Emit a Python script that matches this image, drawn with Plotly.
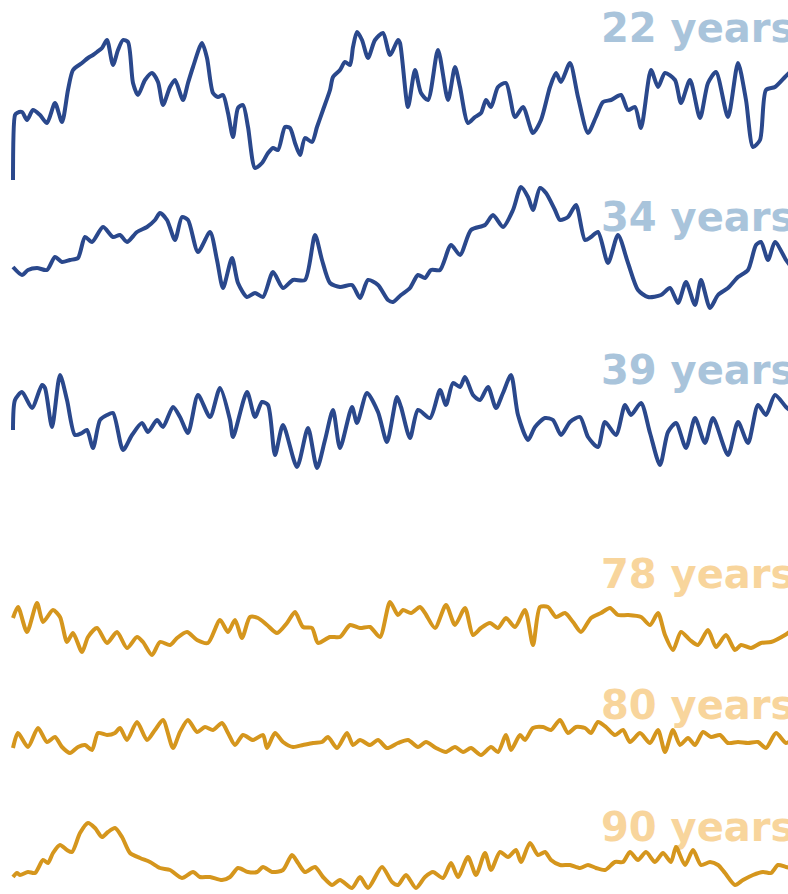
import plotly.graph_objects as go

# Heart-rate traces (beat index, relative heart rate) for six subjects.
t_22 = [0, 2, 4, 9, 14, 20, 27, 34, 42, 49, 55, 60, 69, 75, 80, 84, 89, 94, 100, 105, 110, 115, 120, 125, 132, 139, 145, 150, 157, 162, 170, 175, 180, 189, 194, 200, 205, 210, 215, 220, 225, 230, 235, 242, 249, 255, 260, 265, 272, 277, 282, 287, 292, 299, 304, 310, 317, 320, 327, 332, 337, 340, 344, 349, 355, 362, 370, 377, 385, 387, 395, 402, 408, 415, 425, 435, 442, 447, 455, 462, 468, 473, 478, 485, 493, 502, 510, 520, 528, 537, 543, 548, 557, 565, 575, 583, 590, 598, 608, 615, 622, 628, 638, 645, 652, 662, 668, 677, 687, 695, 703, 715, 725, 733, 740, 747, 753, 762, 772, 779]
hr_22 = [8, 75, 77, 78, 70, 80, 75, 67, 87, 68, 100, 120, 127, 132, 135, 138, 142, 150, 125, 140, 150, 148, 107, 95, 110, 117, 108, 85, 103, 110, 90, 107, 123, 147, 132, 97, 93, 95, 77, 53, 82, 85, 63, 22, 27, 37, 42, 40, 63, 62, 47, 35, 52, 48, 63, 80, 100, 113, 120, 128, 125, 143, 158, 150, 132, 150, 157, 135, 150, 147, 83, 120, 97, 90, 140, 90, 123, 103, 67, 73, 77, 90, 83, 103, 107, 73, 83, 57, 70, 103, 117, 108, 127, 93, 57, 73, 88, 90, 95, 80, 83, 62, 120, 103, 117, 110, 87, 110, 72, 107, 118, 73, 127, 90, 43, 50, 100, 103, 113, 120]

t_34 = [0, 9, 15, 24, 34, 42, 49, 57, 65, 72, 79, 90, 100, 107, 114, 124, 134, 142, 147, 154, 162, 169, 175, 185, 197, 204, 210, 219, 225, 234, 242, 250, 260, 270, 280, 292, 302, 309, 317, 327, 339, 347, 355, 365, 375, 380, 388, 397, 405, 412, 418, 427, 438, 447, 458, 472, 480, 490, 500, 508, 515, 520, 527, 533, 542, 547, 555, 563, 572, 578, 585, 595, 605, 615, 625, 635, 648, 657, 665, 673, 682, 688, 697, 705, 715, 725, 735, 743, 748, 755, 762, 773, 779]
hr_34 = [53, 45, 50, 52, 50, 63, 58, 60, 62, 83, 78, 93, 83, 85, 78, 88, 93, 100, 107, 100, 80, 103, 100, 68, 88, 60, 32, 62, 37, 23, 27, 23, 48, 32, 40, 40, 85, 60, 37, 33, 35, 22, 40, 35, 20, 18, 25, 32, 45, 42, 50, 50, 75, 65, 90, 95, 105, 93, 110, 133, 123, 110, 132, 127, 110, 100, 103, 115, 80, 83, 88, 57, 85, 57, 30, 23, 25, 32, 17, 38, 15, 40, 12, 25, 32, 43, 50, 75, 78, 60, 78, 60, 52]

t_39 = [0, 2, 9, 19, 29, 32, 39, 47, 54, 62, 69, 74, 80, 87, 94, 100, 110, 119, 129, 135, 144, 150, 160, 167, 175, 185, 197, 207, 217, 220, 234, 242, 249, 255, 262, 270, 284, 295, 304, 312, 320, 327, 339, 344, 354, 365, 374, 384, 388, 397, 405, 417, 427, 433, 440, 447, 452, 460, 467, 475, 483, 490, 498, 505, 515, 522, 532, 540, 548, 557, 567, 575, 585, 592, 603, 612, 618, 628, 637, 647, 655, 663, 673, 682, 692, 700, 715, 725, 735, 745, 753, 762, 773, 779]
hr_39 = [50, 80, 88, 72, 95, 92, 53, 105, 80, 45, 47, 50, 32, 60, 65, 67, 30, 45, 57, 48, 60, 53, 73, 63, 47, 85, 63, 92, 60, 43, 88, 63, 78, 75, 25, 55, 13, 52, 12, 40, 70, 32, 73, 57, 87, 68, 38, 83, 73, 42, 70, 62, 90, 75, 97, 93, 103, 85, 80, 93, 72, 87, 105, 65, 40, 53, 62, 60, 45, 58, 63, 43, 33, 58, 45, 75, 65, 77, 47, 15, 48, 57, 32, 62, 37, 62, 25, 58, 37, 75, 65, 85, 73, 68]

t_78 = [0, 5, 14, 24, 30, 40, 47, 54, 60, 69, 75, 84, 94, 104, 114, 124, 130, 139, 147, 157, 164, 174, 184, 195, 207, 215, 222, 229, 237, 245, 254, 264, 274, 282, 290, 299, 305, 317, 327, 337, 347, 357, 367, 377, 385, 390, 398, 407, 412, 422, 433, 442, 452, 460, 468, 477, 485, 493, 502, 512, 520, 527, 535, 543, 552, 560, 568, 578, 588, 597, 605, 615, 628, 637, 645, 652, 660, 668, 677, 685, 695, 703, 713, 722, 728, 738, 748, 758, 772, 779]
hr_78 = [52, 63, 38, 67, 48, 60, 53, 28, 37, 18, 33, 42, 27, 38, 22, 33, 28, 15, 28, 25, 32, 38, 30, 27, 50, 38, 50, 32, 53, 52, 45, 37, 47, 58, 43, 42, 27, 33, 33, 45, 42, 43, 33, 68, 55, 60, 57, 63, 57, 42, 65, 45, 62, 35, 42, 47, 42, 52, 43, 60, 25, 63, 63, 53, 57, 48, 38, 52, 57, 62, 55, 55, 53, 45, 57, 35, 20, 38, 30, 25, 40, 23, 35, 20, 25, 22, 27, 28, 35, 40]

t_80 = [0, 5, 15, 25, 34, 42, 49, 57, 65, 72, 79, 85, 94, 102, 107, 114, 124, 134, 142, 150, 160, 167, 175, 184, 192, 200, 209, 215, 222, 230, 240, 250, 254, 262, 270, 280, 290, 300, 309, 315, 324, 334, 340, 347, 357, 365, 374, 385, 395, 405, 413, 423, 433, 442, 450, 458, 468, 478, 485, 493, 498, 507, 512, 520, 530, 538, 547, 555, 563, 572, 578, 585, 593, 602, 610, 617, 627, 637, 645, 652, 660, 667, 675, 682, 690, 698, 707, 715, 725, 735, 745, 753, 763, 773, 779]
hr_80 = [22, 37, 23, 42, 28, 33, 23, 17, 23, 25, 20, 37, 35, 37, 42, 30, 48, 30, 40, 50, 22, 38, 50, 38, 43, 40, 47, 37, 25, 35, 30, 35, 22, 37, 28, 23, 25, 27, 28, 33, 22, 37, 25, 30, 25, 30, 22, 27, 30, 23, 28, 22, 18, 23, 18, 22, 15, 23, 18, 35, 20, 35, 30, 42, 43, 40, 50, 37, 43, 42, 37, 48, 43, 35, 40, 28, 37, 27, 40, 18, 40, 25, 32, 25, 38, 33, 35, 27, 28, 27, 28, 22, 37, 27, 30]

t_90 = [0, 4, 7, 15, 22, 30, 35, 40, 47, 54, 59, 67, 75, 82, 89, 95, 102, 109, 117, 127, 137, 147, 157, 169, 180, 187, 197, 209, 217, 225, 235, 244, 250, 259, 270, 279, 285, 292, 302, 310, 319, 327, 339, 347, 355, 369, 379, 385, 393, 403, 412, 420, 430, 438, 445, 455, 463, 472, 478, 487, 495, 503, 508, 517, 525, 532, 538, 547, 557, 567, 575, 583, 592, 602, 610, 617, 625, 633, 642, 650, 658, 663, 672, 680, 688, 697, 705, 712, 722, 730, 740, 750, 758, 765, 773, 779]
hr_90 = [17, 21, 19, 22, 21, 34, 31, 41, 49, 44, 42, 61, 71, 66, 57, 62, 66, 57, 41, 36, 32, 26, 24, 16, 22, 17, 17, 14, 17, 26, 22, 22, 27, 22, 24, 39, 31, 22, 27, 17, 9, 14, 6, 17, 6, 27, 12, 9, 19, 6, 17, 22, 16, 31, 17, 37, 19, 41, 24, 42, 37, 44, 32, 51, 39, 42, 34, 29, 29, 26, 29, 26, 24, 32, 32, 42, 34, 42, 32, 41, 32, 47, 29, 44, 29, 32, 29, 21, 9, 14, 19, 22, 21, 29, 27, 26]

ages = ["22 years", "34 years", "39 years", "78 years", "80 years", "90 years"]
times = [t_22, t_34, t_39, t_78, t_80, t_90]
rates = [hr_22, hr_34, hr_39, hr_78, hr_80, hr_90]

# Label anchor (beat index, relative rate) for each subject
label_t = [588, 588, 588, 588, 588, 588]
label_hr = [158, 99, 106, 92, 61, 63]

W, H = 788, 894
YOUNG_LINE, OLD_LINE = "#2a488c", "#d5961d"
YOUNG_TEXT, OLD_TEXT = "#a9c4db", "#f8d59c"

# Vertical band of each strip in page pixels (top, bottom)
bands = [(0, 190), (180, 320), (340, 480), (560, 670), (690, 770), (790, 894)]

fig = go.Figure()
for i, (name, tt, hr) in enumerate(zip(ages, times, rates)):
    yref = "y" if i == 0 else f"y{i + 1}"
    young = i < 3
    # label first so the trace is drawn over it
    fig.add_trace(go.Scatter(
        x=[label_t[i]], y=[label_hr[i]], mode="text", text=[name],
        textposition="middle right", cliponaxis=False,
        textfont=dict(family="DejaVu Sans", size=40, weight="bold",
                      color=YOUNG_TEXT if young else OLD_TEXT),
        yaxis=yref, hoverinfo="skip", showlegend=False))
    fig.add_trace(go.Scatter(
        x=tt, y=hr, mode="lines", name=name,
        line=dict(color=YOUNG_LINE if young else OLD_LINE, width=4,
                  shape="spline", smoothing=0.7),
        yaxis=yref, showlegend=False))

layout = dict(
    width=W, height=H, margin=dict(l=0, r=0, t=0, b=0),
    paper_bgcolor="white", plot_bgcolor="white", showlegend=False,
    xaxis=dict(range=[-13, 775], domain=[0, 1], visible=False, fixedrange=True),
)
for i, (top, bot) in enumerate(bands):
    key = "yaxis" if i == 0 else f"yaxis{i + 1}"
    layout[key] = dict(range=[0, bot - top], domain=[1 - bot / H, 1 - top / H],
                       visible=False, anchor="x", fixedrange=True)
fig.update_layout(**layout)

fig.write_html("out.html")
